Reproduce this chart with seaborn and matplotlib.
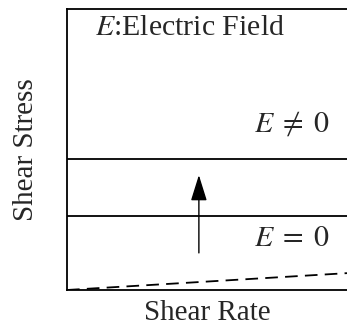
import matplotlib
matplotlib.use("Agg")
import matplotlib.pyplot as plt
import seaborn as sns
import pandas as pd

# Schematic flow curves of an electrorheological fluid
shear_rate = [0.0, 1.0]
stress_field_on = [0.466, 0.466]
stress_field_off = [0.263, 0.263]
stress_viscous = [0.0, 0.06]

arrow_x = 0.471
arrow_from = 0.132
arrow_to = 0.409

sns.set_style("white")
plt.rcParams["font.family"] = ["Liberation Serif", "DejaVu Serif"]
plt.rcParams["mathtext.fontset"] = "stix"

df = pd.DataFrame({
    "rate": shear_rate * 3,
    "stress": stress_field_on + stress_field_off + stress_viscous,
    "curve": ["on"] * 2 + ["off"] * 2 + ["viscous"] * 2,
})

fig = plt.figure(figsize=(3.47, 3.29), dpi=100)
ax = fig.add_axes([67 / 347, 1 - 290 / 329, 1 - 67 / 347, 281 / 329])

sns.lineplot(data=df[df.curve == "on"], x="rate", y="stress", ax=ax,
             color="black", lw=1.3)
sns.lineplot(data=df[df.curve == "off"], x="rate", y="stress", ax=ax,
             color="black", lw=1.3)
sns.lineplot(data=df[df.curve == "viscous"], x="rate", y="stress", ax=ax,
             color="black", lw=1.3, linestyle=(0, (7, 4)))

ax.annotate("", xy=(arrow_x, arrow_to), xytext=(arrow_x, arrow_from),
            arrowprops=dict(arrowstyle="-|>,head_length=1.6,head_width=0.5",
                            color="black", lw=1.0, shrinkA=0, shrinkB=0))

ax.set_xlim(0, 1)
ax.set_ylim(0, 1)
ax.set_xticks([])
ax.set_yticks([])
for side in ["left", "top", "bottom"]:
    ax.spines[side].set_color("black")
    ax.spines[side].set_linewidth(1.3)
ax.spines["right"].set_visible(False)

ax.set_xlabel("Shear Rate", fontsize=21, labelpad=7)
ax.set_ylabel("Shear Stress", fontsize=21, labelpad=20)

ax.text(0.10, 0.907, r"$E$:Electric Field", fontsize=21.5, va="baseline", ha="left")
ax.text(0.939, 0.562, r"$E\;\neq\;0$", fontsize=21.5, va="baseline", ha="right")
ax.text(0.939, 0.157, r"$E\;=\;0$", fontsize=21.5, va="baseline", ha="right")

fig.savefig("out.png", dpi=100)
